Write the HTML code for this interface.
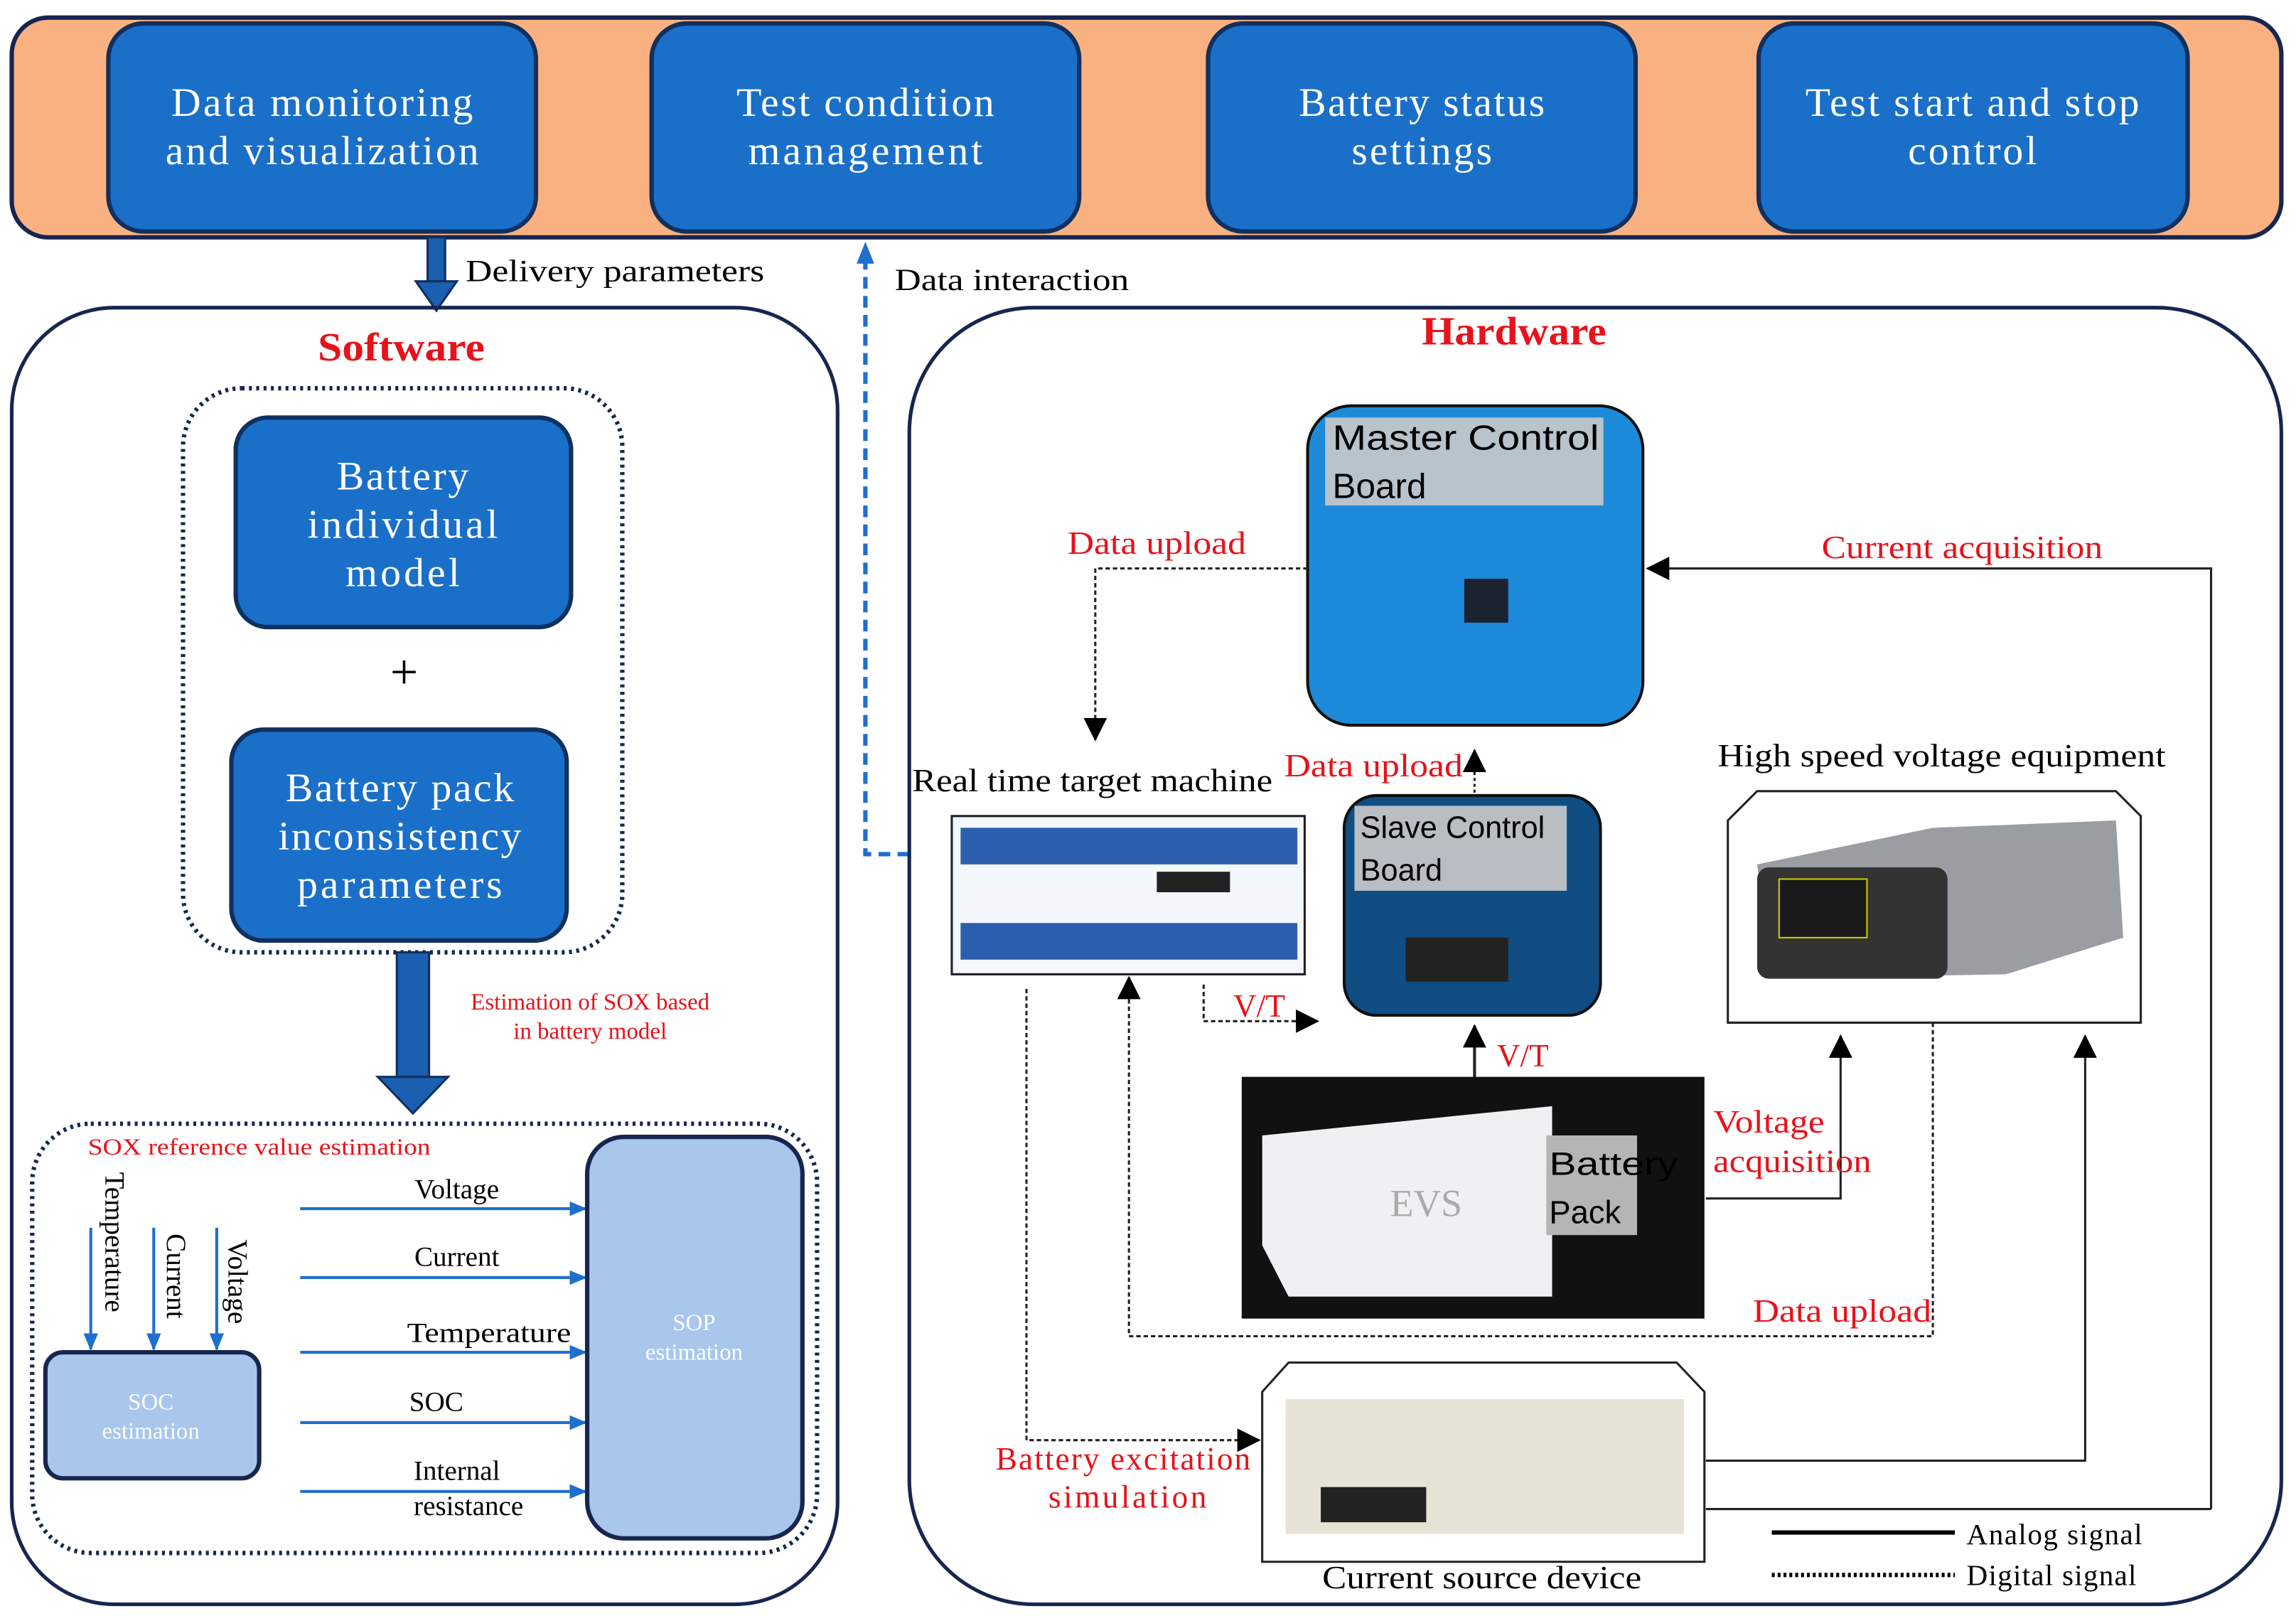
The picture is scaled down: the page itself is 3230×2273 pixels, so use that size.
<!DOCTYPE html>
<html><head><meta charset="utf-8"><style>
html,body{margin:0;padding:0;background:#fff;}
svg{display:block;}
.sf{font-family:"Liberation Serif",serif;}
.ss{font-family:"Liberation Sans",sans-serif;}
</style></head><body>
<svg width="3230" height="2273" viewBox="0 0 1568 1103" preserveAspectRatio="none" xmlns="http://www.w3.org/2000/svg">
<defs>
<marker id="ab" markerWidth="12" markerHeight="12" refX="11" refY="6" orient="auto" markerUnits="userSpaceOnUse"><path d="M0,1 L12,6 L0,11 z" fill="#1f6fcf"/></marker>
<marker id="ak2" markerWidth="16" markerHeight="16" refX="15" refY="8" orient="auto" markerUnits="userSpaceOnUse"><path d="M0,0 L16,8 L0,16 z" fill="#000"/></marker>
</defs>
<rect width="1568" height="1103" fill="#fff"/>
<rect x="8" y="12" width="1550" height="150" rx="25" fill="#f9b181" stroke="#16264f" stroke-width="3"/>
<g fill="#1a6fc9" stroke="#10305e" stroke-width="3">
<rect x="74" y="16" width="292" height="142" rx="24"/>
<rect x="445" y="16" width="292" height="142" rx="24"/>
<rect x="825" y="16" width="292" height="142" rx="24"/>
<rect x="1201" y="16" width="293" height="142" rx="24"/>
</g>
<g class="sf" fill="#fff" font-size="28" text-anchor="middle" lengthAdjust="spacingAndGlyphs">
<text x="220" y="79" textLength="206">Data monitoring</text><text x="220" y="112" textLength="214">and visualization</text>
<text x="591" y="79" textLength="176">Test condition</text><text x="591" y="112" textLength="160">management</text>
<text x="971" y="79" textLength="168">Battery status</text><text x="971" y="112" textLength="96">settings</text>
<text x="1347" y="79" textLength="228">Test start and stop</text><text x="1347" y="112" textLength="88">control</text>
</g>
<rect x="292" y="162" width="12" height="30" fill="#1a5fb0" stroke="#10305e" stroke-width="1.5"/>
<path d="M284,192 L312,192 L298,212 z" fill="#1a5fb0" stroke="#10305e" stroke-width="1.5"/>
<text class="sf" x="318" y="192" font-size="21" textLength="204" lengthAdjust="spacingAndGlyphs">Delivery parameters</text>
<path d="M591,176 L591,583 L622,583" fill="none" stroke="#1f6fcf" stroke-width="3" stroke-dasharray="8,5"/>
<path d="M585,180 L591,165 L597,180 z" fill="#1f6fcf"/>
<text class="sf" x="611" y="198" font-size="21" textLength="160" lengthAdjust="spacingAndGlyphs">Data interaction</text>
<rect x="8" y="210" width="564" height="885" rx="70" fill="none" stroke="#16264f" stroke-width="2.5"/>
<text class="sf" x="274" y="246" font-size="27" font-weight="bold" fill="#e8121a" text-anchor="middle" textLength="114" lengthAdjust="spacingAndGlyphs">Software</text>
<rect x="125" y="265" width="300" height="385" rx="40" fill="none" stroke="#16264f" stroke-width="3" stroke-dasharray="2,3"/>
<rect x="161" y="285" width="229" height="143" rx="22" fill="#1a6fc9" stroke="#10305e" stroke-width="3"/>
<rect x="158" y="498" width="229" height="144" rx="22" fill="#1a6fc9" stroke="#10305e" stroke-width="3"/>
<g class="sf" fill="#fff" font-size="28" text-anchor="middle" lengthAdjust="spacingAndGlyphs">
<text x="275" y="334" textLength="90">Battery</text><text x="275" y="367" textLength="130">individual</text><text x="275" y="400" textLength="78">model</text>
<text x="273" y="547" textLength="156">Battery pack</text><text x="273" y="580" textLength="166">inconsistency</text><text x="273" y="613" textLength="140">parameters</text>
</g>
<text class="sf" x="276" y="470" font-size="34" text-anchor="middle">+</text>
<rect x="271" y="650" width="22" height="85" fill="#1a5fb0" stroke="#10305e" stroke-width="1.5"/>
<path d="M258,735 L306,735 L282,760 z" fill="#1a5fb0" stroke="#10305e" stroke-width="1.5"/>
<g class="sf" fill="#e8121a" font-size="16" text-anchor="middle">
<text x="403" y="689">Estimation of SOX based</text><text x="403" y="709">in battery model</text>
</g>
<rect x="22" y="767" width="536" height="293" rx="40" fill="none" stroke="#16264f" stroke-width="3" stroke-dasharray="2,3"/>
<text class="sf" x="60" y="788" font-size="16" fill="#e8121a" textLength="234" lengthAdjust="spacingAndGlyphs">SOX reference value estimation</text>
<g class="sf" font-size="19">
<text transform="translate(72,800) rotate(90)">Temperature</text>
<text transform="translate(114,842) rotate(90)">Current</text>
<text transform="translate(156,846) rotate(90)">Voltage</text>
</g>
<g stroke="#1f6fcf" stroke-width="2" marker-end="url(#ab)">
<line x1="62" y1="838" x2="62" y2="921"/>
<line x1="105" y1="838" x2="105" y2="921"/>
<line x1="148" y1="838" x2="148" y2="921"/>
<line x1="205" y1="825" x2="400" y2="825"/>
<line x1="205" y1="872" x2="400" y2="872"/>
<line x1="205" y1="923" x2="400" y2="923"/>
<line x1="205" y1="971" x2="400" y2="971"/>
<line x1="205" y1="1018" x2="400" y2="1018"/>
</g>
<rect x="31" y="923" width="146" height="86" rx="12" fill="#a9c6ec" stroke="#16264f" stroke-width="3"/>
<rect x="401" y="776" width="147" height="274" rx="25" fill="#a9c6ec" stroke="#16264f" stroke-width="3"/>
<g class="sf" fill="#fff" font-size="16" text-anchor="middle">
<text x="103" y="962">SOC</text><text x="103" y="982">estimation</text>
<text x="474" y="908">SOP</text><text x="474" y="928">estimation</text>
</g>
<g class="sf" font-size="19" text-anchor="middle">
<text x="312" y="818">Voltage</text><text x="312" y="864">Current</text><text x="334" y="916" textLength="112" lengthAdjust="spacingAndGlyphs">Temperature</text>
<text x="298" y="963">SOC</text><text x="312" y="1010">Internal</text><text x="320" y="1034">resistance</text>
</g>
<rect x="621" y="210" width="937" height="885" rx="85" fill="none" stroke="#16264f" stroke-width="2.5"/>
<text class="sf" x="1034" y="235" font-size="27" font-weight="bold" fill="#e8121a" text-anchor="middle" textLength="126" lengthAdjust="spacingAndGlyphs">Hardware</text>
<rect x="893" y="277" width="229" height="218" rx="30" fill="#1d8ad9" stroke="#111" stroke-width="2"/>
<rect x="1000" y="395" width="30" height="30" fill="#1b2230"/>
<rect x="905" y="285" width="190" height="60" fill="#b9c3cc"/>
<g class="ss" font-size="24"><text x="910" y="307" textLength="182" lengthAdjust="spacingAndGlyphs">Master Control</text><text x="910" y="340">Board</text></g>
<path d="M893,388 L748,388 L748,505" fill="none" stroke="#222" stroke-width="1.5" stroke-dasharray="3,2" marker-end="url(#ak2)"/>
<text class="sf" x="790" y="378" font-size="22" fill="#e8121a" text-anchor="middle" textLength="122" lengthAdjust="spacingAndGlyphs">Data upload</text>
<path d="M1510,1030 L1510,388 L1125,388" fill="none" stroke="#222" stroke-width="1.5" marker-end="url(#ak2)"/>
<path d="M1165,1030 L1510,1030" stroke="#222" stroke-width="1.5"/>
<text class="sf" x="1340" y="381" font-size="22" fill="#e8121a" text-anchor="middle" textLength="192" lengthAdjust="spacingAndGlyphs">Current acquisition</text>
<text class="sf" x="746" y="540" font-size="22" text-anchor="middle" textLength="246" lengthAdjust="spacingAndGlyphs">Real time target machine</text>
<rect x="650" y="557" width="241" height="108" fill="#f4f7fb" stroke="#222" stroke-width="1.5"/>
<rect x="656" y="565" width="230" height="25" fill="#2b5fae"/>
<rect x="656" y="630" width="230" height="25" fill="#2b5fae"/>
<rect x="790" y="595" width="50" height="14" fill="#222"/>
<path d="M1007,545 L1007,512" stroke="#222" stroke-width="1.5" stroke-dasharray="2,2" marker-end="url(#ak2)"/>
<text class="sf" x="938" y="530" font-size="22" fill="#e8121a" text-anchor="middle" textLength="122" lengthAdjust="spacingAndGlyphs">Data upload</text>
<rect x="918" y="543" width="175" height="150" rx="22" fill="#0f4d82" stroke="#111" stroke-width="2"/>
<rect x="960" y="640" width="70" height="30" fill="#222"/>
<rect x="925" y="550" width="145" height="58" fill="#b9bec4"/>
<g class="ss" font-size="21"><text x="929" y="572">Slave Control</text><text x="929" y="601">Board</text></g>
<path d="M822,672 L822,697 L900,697" fill="none" stroke="#222" stroke-width="1.5" stroke-dasharray="3,2" marker-end="url(#ak2)"/>
<text class="sf" x="860" y="694" font-size="22" fill="#e8121a" text-anchor="middle">V/T</text>
<path d="M1320,698 L1320,912 L771,912 L771,667" fill="none" stroke="#222" stroke-width="1.5" stroke-dasharray="3,2" marker-end="url(#ak2)"/>
<path d="M1007,737 L1007,700" stroke="#222" stroke-width="2" marker-end="url(#ak2)"/>
<text class="sf" x="1040" y="728" font-size="22" fill="#e8121a" text-anchor="middle">V/T</text>
<rect x="848" y="735" width="316" height="165" fill="#111"/>
<path d="M862,775 L1060,755 L1060,885 L880,885 L862,850 z" fill="#eef0f2"/>
<text class="sf" x="974" y="830" font-size="26" fill="#aaa" text-anchor="middle">EVS</text>
<rect x="1056" y="775" width="62" height="68" fill="#b5b5b5"/>
<g class="ss" font-size="22"><text x="1058" y="802" textLength="88" lengthAdjust="spacingAndGlyphs">Battery</text><text x="1058" y="835">Pack</text></g>
<path d="M1165,818 L1257,818 L1257,707" fill="none" stroke="#222" stroke-width="1.5" marker-end="url(#ak2)"/>
<g class="sf" font-size="22" fill="#e8121a"><text x="1170" y="773" textLength="76" lengthAdjust="spacingAndGlyphs">Voltage</text><text x="1170" y="800" textLength="108" lengthAdjust="spacingAndGlyphs">acquisition</text>
<text x="1258" y="902" text-anchor="middle" textLength="122" lengthAdjust="spacingAndGlyphs">Data upload</text></g>
<text class="sf" x="1326" y="523" font-size="22" text-anchor="middle" textLength="306" lengthAdjust="spacingAndGlyphs">High speed voltage equipment</text>
<path d="M1180,560 L1200,540 L1445,540 L1462,557 L1462,698 L1180,698 z" fill="#fff" stroke="#222" stroke-width="1.5"/>
<path d="M1200,590 L1320,565 L1445,560 L1450,640 L1370,665 L1210,668 z" fill="#9a9ea3"/>
<rect x="1200" y="592" width="130" height="76" rx="8" fill="#333"/>
<rect x="1215" y="600" width="60" height="40" fill="#1a1a1a" stroke="#cc0" stroke-width="1"/>
<path d="M701,675 L701,983 L860,983" fill="none" stroke="#222" stroke-width="1.5" stroke-dasharray="3,2" marker-end="url(#ak2)"/>
<g class="sf" font-size="22" fill="#e8121a" text-anchor="middle" lengthAdjust="spacingAndGlyphs"><text x="767" y="1003" textLength="174">Battery excitation</text><text x="770" y="1029" textLength="108">simulation</text></g>
<path d="M862,950 L880,930 L1145,930 L1164,950 L1164,1066 L862,1066 z" fill="#fff" stroke="#222" stroke-width="1.5"/>
<rect x="878" y="955" width="272" height="92" fill="#e6e3d6"/>
<rect x="902" y="1015" width="72" height="24" fill="#222"/>
<path d="M1165,997 L1424,997 L1424,707" fill="none" stroke="#222" stroke-width="1.5" marker-end="url(#ak2)"/>
<text class="sf" x="1012" y="1084" font-size="22" text-anchor="middle" textLength="218" lengthAdjust="spacingAndGlyphs">Current source device</text>
<line x1="1210" y1="1046" x2="1335" y2="1046" stroke="#000" stroke-width="3"/>
<line x1="1210" y1="1075" x2="1335" y2="1075" stroke="#000" stroke-width="3" stroke-dasharray="2,2"/>
<g class="sf" font-size="20" lengthAdjust="spacingAndGlyphs"><text x="1343" y="1054" textLength="120">Analog signal</text><text x="1343" y="1082" textLength="116">Digital signal</text></g>
</svg>
</body></html>
